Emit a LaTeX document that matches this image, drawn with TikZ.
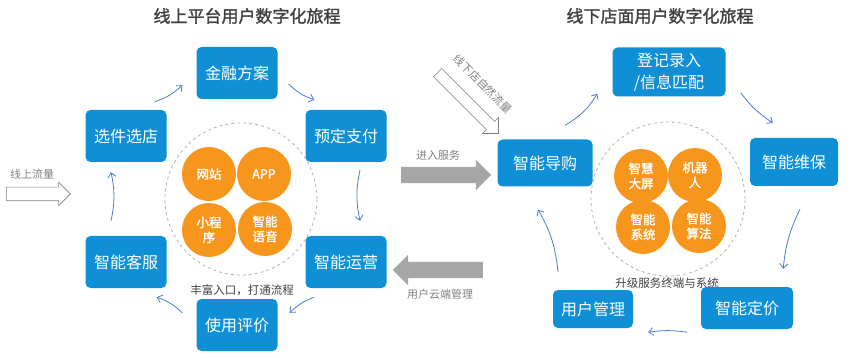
\documentclass[tikz,border=0pt]{standalone}
\usepackage{fontspec}
\setmainfont{Noto Sans CJK SC}
\newfontfamily\boldcjk{Noto Sans CJK SC}[FakeBold=1.5]
\usetikzlibrary{shapes.arrows,arrows.meta}
\definecolor{boxblue}{RGB}{14,143,214}
\definecolor{dotorange}{RGB}{247,150,28}
\definecolor{arcblue}{RGB}{70,125,205}
\definecolor{titlegray}{RGB}{64,64,64}
\definecolor{flowgray}{RGB}{166,166,166}
\begin{document}
\begin{tikzpicture}[
  x=1pt, y=-1pt,
  stepbox/.style={rectangle, rounded corners=5pt, fill=boxblue, text=white, inner sep=0pt, align=center, font=\fontsize{16}{22}\selectfont},
  dot/.style={circle, fill=dotorange, text=white, minimum size=54pt, inner sep=0pt, align=center, font=\boldcjk\fontsize{12.5}{15}\selectfont},
  ring/.style={draw=gray!60, dashed, line width=0.8pt},
  flow/.style={draw=arcblue, line width=0.8pt, -{Straight Barb[length=4.5pt,width=8pt]}},
  title/.style={text=titlegray, font=\boldcjk\fontsize{17}{20}\selectfont},
  note/.style={text=gray, font=\fontsize{11}{13}\selectfont},
  bignote/.style={text=titlegray, font=\fontsize{11.5}{13}\selectfont},
  fatarrow/.style={single arrow, fill=flowgray, inner xsep=0pt, inner ysep=8pt, minimum height=90pt, single arrow head extend=7pt},
  hollowarrow/.style={single arrow, draw=gray, fill=white, line width=0.6pt, inner xsep=0pt}
]
  \useasboundingbox (0,0) rectangle (865,358);

  % Titel
  \node[title] (tleft) at (247,16) {线上平台用户数字化旅程};
  \node[title] (tright) at (660,16) {线下店面用户数字化旅程};

  % linke Seite: Kreis und Punkte
  \draw[ring] (241,199) circle[radius=76pt];
  \node[dot] (web) at (209,174) {网站};
  \node[dot] (app) at (264,174) {APP};
  \node[dot] (mini) at (209,230) {小程\\序};
  \node[dot] (voice) at (265,229) {智能\\语音};
  \node[bignote] (lnote) at (242,290) {丰富入口，打通流程};

  % linke Seite: Schritte
  \node[stepbox, minimum width=81pt, minimum height=52pt] (jrfa) at (237,73) {金融方案};
  \node[stepbox, minimum width=81pt, minimum height=52pt] (ydzf) at (346,136) {预定支付};
  \node[stepbox, minimum width=81pt, minimum height=52pt] (znyy) at (346,262) {智能运营};
  \node[stepbox, minimum width=81pt, minimum height=52pt] (sypj) at (237,325) {使用评价};
  \node[stepbox, minimum width=81pt, minimum height=52pt] (znkf) at (126,262) {智能客服};
  \node[stepbox, minimum width=81pt, minimum height=52pt] (xjxd) at (126,136) {选件选店};

  \draw[flow] ([shift={(-12,-8)}]xjxd.north east) to[bend right=12] ([shift={(-14,-14)}]jrfa.south west);
  \draw[flow] ([shift={(11,-15)}]jrfa.south east) to[bend right=12] ([shift={(9,-10)}]ydzf.north west);
  \draw[flow] ([shift={(14,8)}]ydzf.south) to[bend right=12] ([shift={(14,-15)}]znyy.north);
  \draw[flow] ([shift={(9,9)}]znyy.south west) to[bend right=12] ([shift={(12,14)}]sypj.north east);
  \draw[flow] ([shift={(-14,14)}]sypj.north west) to[bend right=12] ([shift={(-10,9)}]znkf.south east);
  \draw[flow] ([shift={(-15,-15)}]znkf.north) to[bend right=12] ([shift={(-15,10)}]xjxd.south);

  % Zufluss online
  \node[note] (online) at (32,174) {线上流量};
  \node[hollowarrow, inner ysep=6.5pt, minimum height=64pt, single arrow head extend=5pt] (inflow) at (35,194) {};

  % Mitte: graue Pfeile
  \node[note] (service) at (438,155) {进入服务};
  \node[fatarrow] (toright) at (442,175) {};
  \node[fatarrow, shape border rotate=180] (toleft) at (442,270) {};
  \node[note] (cloud) at (440,294) {用户云端管理};

  % Zufluss Laden
  \node[hollowarrow, inner ysep=5.5pt, minimum height=86pt, single arrow head extend=5.5pt, rotate=-45] (storeflow) at (466,101) {};
  \node[note, rotate=-45] (storenote) at (483,84) {线下店自然流量};

  % rechte Seite: Kreis und Punkte
  \draw[ring] (668,199) circle[radius=77pt];
  \node[dot] (screen) at (641,176) {智慧\\大屏};
  \node[dot] (robot) at (695,175) {机器\\人};
  \node[dot] (system) at (643,227) {智能\\系统};
  \node[dot] (algo) at (699,226) {智能\\算法};
  \node[bignote] (rnote) at (667,283) {升级服务终端与系统};

  % rechte Seite: Schritte
  \node[stepbox, minimum width=113pt, minimum height=49pt] (djlr) at (669,72) {登记录入\\/信息匹配};
  \node[stepbox, minimum width=88pt, minimum height=48pt] (znwb) at (794,162) {智能维保};
  \node[stepbox, minimum width=92pt, minimum height=42pt] (zndj) at (747,308) {智能定价};
  \node[stepbox, minimum width=80pt, minimum height=38pt] (yhgl) at (593,309) {用户管理};
  \node[stepbox, minimum width=95pt, minimum height=47pt] (zndg) at (545,163) {智能导购};

  \draw[flow] ([shift={(20,-14)}]zndg.north) to[bend right=14] ([shift={(-15,-3)}]djlr.south west);
  \draw[flow] ([shift={(15,-4)}]djlr.south east) to[bend right=10] ([shift={(23,-15)}]znwb.north west);
  \draw[flow] ([shift={(6,23)}]znwb.south) to[bend right=10] ([shift={(-10,-18)}]zndj.north east);
  \draw[flow] ([shift={(-14,3)}]zndj.south west) to[bend right=8] ([shift={(15,4)}]yhgl.south east);
  \draw[flow] ([shift={(-35,-18)}]yhgl.north) to[bend right=12] ([shift={(-7,23)}]zndg.south);
\end{tikzpicture}
\end{document}
